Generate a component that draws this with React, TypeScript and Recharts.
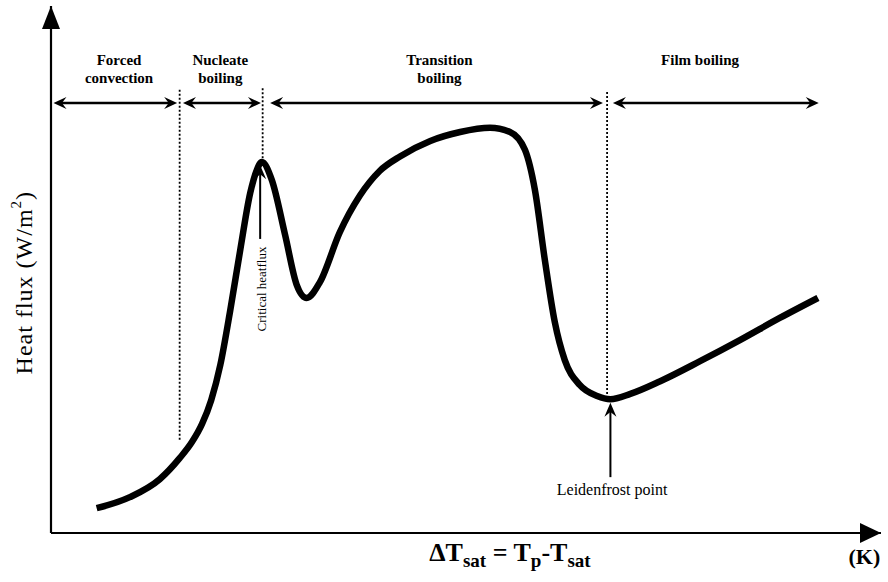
import React from "react";
import { LineChart, Line, XAxis, YAxis, ReferenceLine, ReferenceDot } from "recharts";

// boiling curve, schematic units (0-100 on both axes)
const deltaT = [
  5.5, 9.5, 13.1, 15.5, 17.0, 18.2, 19.3, 20.4, 21.6, 22.8, 24.0, 24.8, 25.4, 26.6, 28.2, 29.6,
  30.8, 32.4, 34.8, 37.2, 39.6, 42.1, 45.7, 49.3, 52.9, 55.3, 57.1, 58.3, 59.5, 60.7, 61.9,
  63.7, 65.8, 67.4, 69.8, 73.4, 78.2, 83.0, 87.8, 92.4,
];
const heatFlux = [
  4.7, 6.8, 10.2, 14.2, 17.3, 20.7, 25.2, 31.9, 42.3, 53.7, 64.5, 68.9, 70.4, 67.0, 56.6, 47.1,
  44.6, 47.6, 57.1, 64.0, 68.7, 71.5, 74.4, 76.1, 76.9, 76.1, 72.7, 65.1, 51.8, 40.0, 32.8,
  28.1, 26.0, 25.4, 26.4, 28.8, 32.6, 36.6, 40.8, 44.6,
];

const regionNames = [["Forced", "convection"], ["Nucleate", "boiling"], ["Transition", "boiling"], ["Film boiling"]];
const regionFrom = [0.3, 15.9, 26.4, 67.7];
const regionTo = [15.2, 25.3, 66.5, 92.5];
const regionMid = [8.2, 20.4, 46.8, 78.2];

const boundaryX = [15.5, 25.5, 67.0];
const boundaryTop = [84.1, 84.4, 83.7];
const boundaryBottom = [17.6, 70.4, 25.8];

const curve = deltaT.map((x, i) => ({ x, q: heatFlux[i] }));

const FONT = "Liberation Serif, Times New Roman, serif";

function head(tx: number, ty: number, ux: number, uy: number, len: number, half: number) {
  const nx = -uy;
  const ny = ux;
  const bx = tx - ux * len;
  const by = ty - uy * len;
  const mx = tx - ux * len * 0.65;
  const my = ty - uy * len * 0.65;
  return `M${tx},${ty} L${bx + nx * half},${by + ny * half} L${mx},${my} L${bx - nx * half},${by - ny * half} Z`;
}

const DoubleArrow = (p: any) => {
  const { x1, y1, x2, y2 } = p;
  const d = Math.hypot(x2 - x1, y2 - y1) || 1;
  const ux = (x2 - x1) / d;
  const uy = (y2 - y1) / d;
  return (
    <g>
      <line x1={x1 + ux * 6} y1={y1} x2={x2 - ux * 6} y2={y2} stroke="#000" strokeWidth={2.5} />
      <path d={head(x2, y2, ux, uy, 13, 6)} fill="#000" />
      <path d={head(x1, y1, -ux, -uy, 13, 6)} fill="#000" />
    </g>
  );
};

const UpArrow = (p: any) => {
  const { x1, y1, x2, y2 } = p;
  return (
    <g>
      <line x1={x1} y1={y1} x2={x2} y2={y2 + 8} stroke="#000" strokeWidth={2} />
      <path d={head(x2, y2, 0, -1, 14, 6)} fill="#000" />
    </g>
  );
};

const AxisLine = (p: any) => (
  <line x1={p.x1} y1={p.y1} x2={p.x2} y2={p.y2} stroke="#000" strokeWidth={2.2} />
);

const RightTip = (p: any) => (
  <path d={`M${p.cx},${p.cy} L${p.cx - 21},${p.cy - 10} L${p.cx - 21},${p.cy + 10} Z`} fill="#000" />
);
const UpTip = (p: any) => (
  <path d={`M${p.cx},${p.cy} L${p.cx - 9},${p.cy + 23} L${p.cx + 9},${p.cy + 23} Z`} fill="#000" />
);

const textAt = (lines: string[], size: number, weight: string | number, rotate = false) => (p: any) => (
  <text
    x={p.cx}
    y={p.cy}
    textAnchor="middle"
    fontFamily={FONT}
    fontSize={size}
    fontWeight={weight}
    fill="#000"
    dominantBaseline={rotate ? "central" : "auto"}
    transform={rotate ? `rotate(-90 ${p.cx} ${p.cy})` : undefined}
  >
    {lines.map((l, i) => (
      <tspan key={i} x={p.cx} dy={i ? 18 : 0}>
        {l}
      </tspan>
    ))}
  </text>
);

const XTitle = (p: any) => (
  <text x={p.cx} y={p.cy} textAnchor="middle" fontFamily={FONT} fontSize={26} fontWeight="bold" fill="#000">
    <tspan>ΔT</tspan>
    <tspan dy={6} fontSize={19}>sat</tspan>
    <tspan dy={-6}> = T</tspan>
    <tspan dy={6} fontSize={19}>p</tspan>
    <tspan dy={-6}>-T</tspan>
    <tspan dy={6} fontSize={19}>sat</tspan>
  </text>
);

const YTitle = (p: any) => (
  <text
    x={p.cx}
    y={p.cy}
    textAnchor="middle"
    dominantBaseline="central"
    fontFamily={FONT}
    fontSize={24}
    letterSpacing={1}
    fill="#000"
    transform={`rotate(-90 ${p.cx} ${p.cy})`}
  >
    Heat flux  (W/m
    <tspan dy={-8} fontSize={15}>2</tspan>
    <tspan dy={8}>)</tspan>
  </text>
);

export default function App() {
  return (
    <div style={{ position: "absolute", left: 0, top: 0, background: "#fff" }}>
      <LineChart width={888} height={582} data={curve} margin={{ top: 6, right: 7, bottom: 49, left: 51 }}>
        <XAxis type="number" dataKey="x" domain={[0, 100]} hide />
        <YAxis type="number" domain={[0, 100]} hide />

        <ReferenceLine segment={[{ x: 0, y: 0 }, { x: 100, y: 0 }]} shape={AxisLine} />
        <ReferenceLine segment={[{ x: 0, y: 0 }, { x: 0, y: 100 }]} shape={AxisLine} />

        {boundaryX.map((x, i) => (
          <ReferenceLine
            key={"b" + i}
            segment={[{ x, y: boundaryTop[i] }, { x, y: boundaryBottom[i] }]}
            stroke="#000"
            strokeWidth={1.8}
            strokeDasharray="2 2"
          />
        ))}

        {regionFrom.map((x, i) => (
          <ReferenceLine
            key={"r" + i}
            segment={[{ x, y: 81.6 }, { x: regionTo[i], y: 81.6 }]}
            shape={DoubleArrow}
          />
        ))}

        {regionNames.map((lines, i) => (
          <ReferenceDot key={"t" + i} x={regionMid[i]} y={88.8} r={0} shape={textAt(lines, 15, "bold")} />
        ))}

        <Line
          type="monotone"
          dataKey="q"
          stroke="#000"
          strokeWidth={6.5}
          dot={false}
          activeDot={false}
          isAnimationActive={false}
        />

        <ReferenceLine segment={[{ x: 25.2, y: 55.8 }, { x: 25.2, y: 69.8 }]} shape={UpArrow} />
        <ReferenceLine segment={[{ x: 67.4, y: 10.6 }, { x: 67.4, y: 24.7 }]} shape={UpArrow} />

        <ReferenceDot x={25.3} y={46.3} r={0} shape={textAt(["Critical heatflux"], 13, "normal", true)} />
        <ReferenceDot x={67.6} y={7.2} r={0} shape={textAt(["Leidenfrost point"], 16, "normal")} />

        <ReferenceDot x={100} y={0} r={0} shape={RightTip} />
        <ReferenceDot x={0} y={100} r={0} shape={UpTip} />

        <ReferenceDot x={55.3} y={-5.3} r={0} ifOverflow="visible" shape={XTitle} />
        <ReferenceDot x={98.0} y={-5.8} r={0} ifOverflow="visible" shape={textAt(["(K)"], 22, "bold")} />
        <ReferenceDot x={-3.2} y={47.5} r={0} ifOverflow="visible" shape={YTitle} />
      </LineChart>
    </div>
  );
}
